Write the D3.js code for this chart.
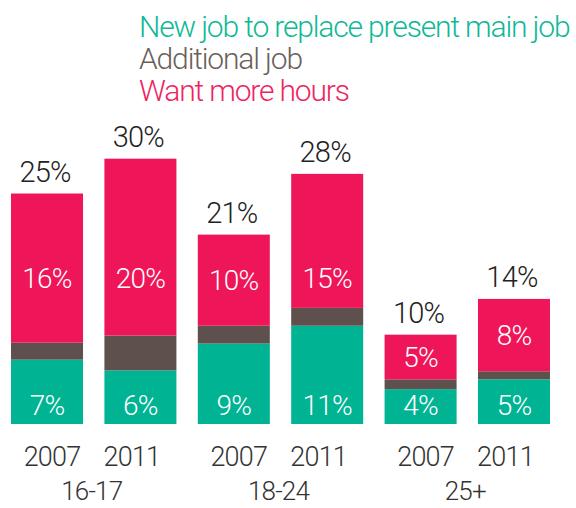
<!DOCTYPE html>
<html>
<head>
<meta charset="utf-8">
<script src="https://cdn.jsdelivr.net/npm/d3@7"></script>
<style>
  html, body { margin: 0; padding: 0; background: #fff; }
  svg { display: block; }
  text { font-family: Roboto, "Helvetica Neue", Arial, sans-serif; font-weight: 300; }
</style>
</head>
<body>
<div id="chart"></div>
<script>
// categories
const ageGroups = ["16-17", "18-24", "25+"];
const years = ["2007", "2011"];

// series values (percent of workers)
const newJob = [7.2, 6.0, 9.0, 11.0, 3.9, 5.0];
const additionalJob = [1.9, 3.9, 2.0, 2.0, 1.1, 0.9];
const moreHours = [16.7, 19.8, 10.2, 15.0, 5.0, 8.1];

// printed labels
const newJobLabels = ["7%", "6%", "9%", "11%", "4%", "5%"];
const moreHoursLabels = ["16%", "20%", "10%", "15%", "5%", "8%"];
const totalLabels = ["25%", "30%", "21%", "28%", "10%", "14%"];

const seriesNames = ["New job to replace present main job", "Additional job", "Want more hours"];
const seriesKeys = ["newJob", "additionalJob", "moreHours"];
const colors = ["#00b393", "#5e514d", "#ee1558"];
const legendColors = ["#10b896", "#6b5f5a", "#ee2560"];

const width = 576, height = 508;

const svg = d3.select("#chart").append("svg")
  .attr("width", width)
  .attr("height", height);

// one row per bar
const rows = [];
ageGroups.forEach((g, gi) => {
  years.forEach((y, yi) => {
    const i = gi * years.length + yi;
    rows.push({
      key: g + "|" + y, group: g, year: y, yi: yi,
      newJob: newJob[i], additionalJob: additionalJob[i], moreHours: moreHours[i],
      newJobLabel: newJobLabels[i], moreHoursLabel: moreHoursLabels[i], totalLabel: totalLabels[i]
    });
  });
});

const x = d3.scaleBand()
  .domain(rows.map(d => d.key))
  .range([0, 561])
  .paddingInner(0.229)
  .paddingOuter(0.118);

const y = d3.scaleLinear()
  .domain([0, 30])
  .range([424, 156]);

const stacked = d3.stack().keys(seriesKeys)(rows);

// bars
svg.append("g").selectAll("g")
  .data(stacked)
  .join("g")
    .attr("fill", (d, i) => colors[i])
  .selectAll("rect")
  .data(d => d)
  .join("rect")
    .attr("x", d => x(d.data.key))
    .attr("y", d => y(d[1]))
    .attr("width", x.bandwidth())
    .attr("height", d => y(d[0]) - y(d[1]));

const cx = d => x(d.key) + x.bandwidth() / 2;

// totals above bars
svg.append("g").selectAll("text")
  .data(stacked[2])
  .join("text")
    .attr("x", d => cx(d.data) - 2)
    .attr("y", d => y(d[1]) - 12)
    .attr("text-anchor", "middle")
    .attr("font-size", 29)
    .attr("letter-spacing", -0.8)
    .attr("fill", "#222")
    .text(d => d.data.totalLabel);

// "want more hours" labels, centred in segment but held low in tall bars
svg.append("g").selectAll("text")
  .data(stacked[2])
  .join("text")
    .attr("x", d => cx(d.data))
    .attr("y", d => y(Math.min((d[0] + d[1]) / 2, 16.4)))
    .attr("dy", "0.36em")
    .attr("text-anchor", "middle")
    .attr("font-size", 28)
    .attr("letter-spacing", -0.8)
    .attr("fill", "#fff")
    .text(d => d.data.moreHoursLabel);

// "new job" labels near bar base
svg.append("g").selectAll("text")
  .data(stacked[0])
  .join("text")
    .attr("x", d => cx(d.data))
    .attr("y", y(0) - 9)
    .attr("text-anchor", "middle")
    .attr("font-size", 28)
    .attr("letter-spacing", -0.8)
    .attr("fill", "#fff")
    .text(d => d.data.newJobLabel);

// year labels
svg.append("g").selectAll("text")
  .data(rows)
  .join("text")
    .attr("x", d => cx(d) + (d.yi === 0 ? 5 : -8.5))
    .attr("y", 466)
    .attr("text-anchor", "middle")
    .attr("font-size", 27)
    .attr("letter-spacing", -0.8)
    .attr("fill", "#333")
    .text(d => d.year);

// age group labels
svg.append("g").selectAll("text")
  .data(ageGroups)
  .join("text")
    .attr("x", g => (cx(rows.find(r => r.group === g && r.yi === 0)) + cx(rows.find(r => r.group === g && r.yi === 1))) / 2 - 2)
    .attr("y", 500)
    .attr("text-anchor", "middle")
    .attr("font-size", 26)
    .attr("letter-spacing", -0.8)
    .attr("fill", "#333")
    .text(g => g);

// legend
svg.append("g").selectAll("text")
  .data(seriesNames)
  .join("text")
    .attr("x", 139)
    .attr("y", (d, i) => 37 + i * 32)
    .attr("font-size", 30)
    .attr("letter-spacing", -1.15)
    .attr("fill", (d, i) => legendColors[i])
    .text(d => d);
</script>
</body>
</html>
